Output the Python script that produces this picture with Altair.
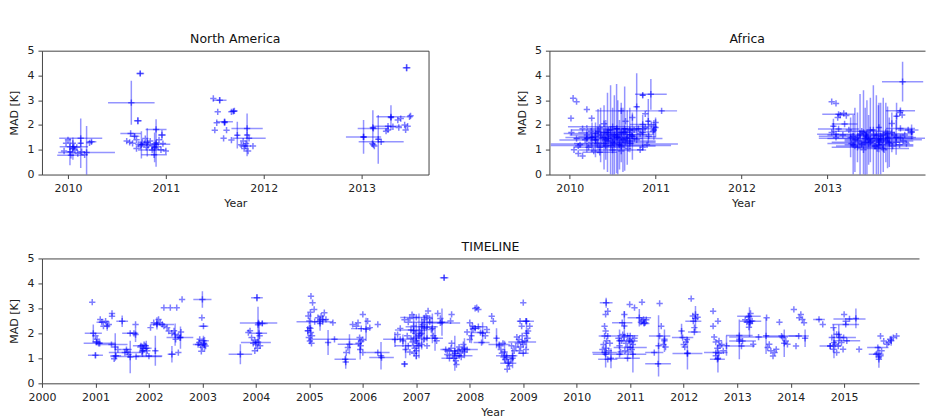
import altair as alt
import pandas as pd

FONT = "DejaVu Sans"
BLUE = "#0000ff"

# ---------- data: (year, MAD, x-error, y-error); 2-tuples are plain "+" markers ----------
na_2010 = [
    (2010.13, 1.46, 0.22, 0.03), (2010.13, 1.26, 0.02, 1.0), (2010.19, 0.89, 0.29, 1.07),
    (2010.06, 1.12, 0.145, 0.03), (2010.03, 0.78, 0.14, 0.03), (2010.02, 0.92, 0.02, 0.54),
    (2010.05, 1.05, 0.02, 0.45), (2010.24, 1.32, 0.05, 0.08), (2010.22, 1.28),
    (2010.02, 1.12), (2010.07, 0.99), (2010.10, 0.85), (2010.14, 0.92), (2010.05, 1.26),
    (2009.98, 1.26), (2009.96, 0.95), (2010.00, 1.40), (2010.09, 1.10), (2010.17, 0.80),
]
na_2010b = [
    (2010.647, 2.90, 0.238, 0.89), (2010.738, 4.08, 0.04, 0.10), (2010.714, 2.17, 0.04, 0.15),
    (2010.64, 1.66, 0.105, 0.03), (2010.90, 1.82, 0.107, 0.03), (2010.90, 1.27, 0.02, 0.96),
    (2010.81, 1.30, 0.02, 0.57), (2010.90, 1.22, 0.145, 0.03), (2010.86, 0.99, 0.145, 0.03),
    (2010.88, 0.80, 0.13, 0.03), (2010.75, 1.20, 0.02, 0.55), (2010.885, 1.10, 0.02, 0.60),
    (2010.60, 1.35), (2010.63, 1.30), (2010.66, 1.26), (2010.70, 1.40), (2010.72, 1.22),
    (2010.74, 1.15), (2010.76, 1.30), (2010.78, 1.25), (2010.80, 1.10), (2010.82, 1.18),
    (2010.84, 1.35), (2010.86, 1.15), (2010.88, 1.05), (2010.92, 1.12), (2010.95, 1.00),
    (2010.97, 1.25), (2011.00, 0.95), (2010.79, 1.45), (2010.70, 1.05), (2010.93, 1.40),
    (2010.68, 1.55, 0.05, 0.1), (2010.96, 1.60, 0.04, 0.2),
]
na_2011 = [
    (2011.485, 3.07), (2011.55, 3.00, 0.07, 0.12), (2011.53, 2.53), (2011.52, 2.09),
    (2011.50, 1.79), (2011.59, 1.46), (2011.60, 2.13, 0.085, 0.03), (2011.60, 2.10, 0.02, 0.12),
    (2011.67, 2.53), (2011.70, 2.57), (2011.69, 2.55, 0.04, 0.10), (2011.62, 1.79),
    (2011.83, 1.86, 0.16, 0.03), (2011.83, 1.60, 0.02, 0.86), (2011.85, 1.46, 0.17, 0.03),
    (2011.73, 1.59, 0.02, 0.54), (2011.77, 1.20), (2011.80, 1.05), (2011.82, 1.25),
    (2011.84, 0.95), (2011.79, 1.35), (2011.89, 1.15), (2011.67, 1.39), (2011.81, 1.15, 0.06, 0.05),
]
na_2013 = [
    (2013.02, 1.52, 0.18, 0.03), (2013.02, 1.52, 0.02, 0.68), (2013.20, 1.32, 0.23, 0.03),
    (2013.17, 1.42, 0.02, 0.98), (2013.12, 1.86, 0.16, 0.03), (2013.115, 1.90, 0.02, 0.70),
    (2013.12, 1.20), (2013.13, 1.15), (2013.11, 1.25), (2013.27, 1.95, 0.14, 0.03),
    (2013.30, 2.33, 0.15, 0.03), (2013.30, 2.30, 0.02, 0.50), (2013.27, 1.80), (2013.32, 1.93),
    (2013.37, 2.20), (2013.40, 2.26), (2013.44, 2.00), (2013.45, 1.80), (2013.49, 2.33),
    (2013.47, 1.95), (2013.38, 1.90), (2013.25, 1.75), (2013.46, 4.31, 0.04, 0.15), (2013.50, 2.37),
]

af_2010 = [
    (2010.04, 3.08), (2010.08, 2.94), (2010.20, 2.63), (2010.015, 2.27), (2010.256, 2.27),
    (2010.52, 1.23, 0.74, 0.03), (2010.48, 1.17, 0.70, 0.03), (2010.945, 3.24, 0.185, 0.62),
    (2010.85, 3.20, 0.03, 0.10), (2010.60, 2.57, 0.30, 0.03), (2011.07, 2.57, 0.18, 0.03),
    (2010.78, 2.74, 0.02, 1.35), (2010.476, 1.80, 0.02, 1.80), (2010.546, 1.85, 0.02, 1.80),
    (2010.33, 1.75, 0.02, 0.90), (2010.64, 1.85, 0.02, 1.70), (2010.42, 1.40, 0.02, 0.80),
    (2010.58, 1.20, 0.02, 1.00), (2010.70, 1.80, 0.02, 0.90), (2010.915, 2.15, 0.02, 0.90),
    (2010.98, 1.80, 0.02, 0.40), (2010.26, 1.50, 0.02, 0.60), (2010.36, 1.60, 0.02, 1.10),
    (2010.50, 1.30, 0.02, 1.40), (2010.62, 1.40, 0.02, 1.30),
    (2010.40, 1.50, 0.02, 1.30), (2010.44, 1.70, 0.02, 1.60), (2010.52, 1.60, 0.02, 1.60),
    (2010.56, 1.50, 0.02, 1.50), (2010.60, 1.70, 0.02, 1.20), (2010.67, 1.50, 0.02, 1.10),
    (2010.73, 1.55, 0.02, 0.95), (2010.30, 1.40, 0.02, 0.70), (2010.20, 1.45, 0.02, 0.55),
    (2010.85, 1.70, 0.02, 0.70), (2011.00, 1.90, 0.02, 0.40),
]
af_2010h = [
    (2010.50, 1.93, 0.52, 0.03), (2010.45, 1.80, 0.43, 0.03), (2010.30, 1.66, 0.37, 0.03),
    (2010.55, 1.53, 0.45, 0.03), (2010.30, 1.39, 0.42, 0.03), (2010.50, 0.99, 0.39, 0.03),
    (2010.40, 1.70, 0.30, 0.03), (2010.70, 1.62, 0.28, 0.03), (2010.75, 1.45, 0.33, 0.03),
    (2010.35, 1.10, 0.30, 0.03), (2010.65, 1.30, 0.35, 0.03), (2010.80, 1.85, 0.20, 0.03),
    (2010.45, 1.45, 0.40, 0.03), (2010.85, 2.02, 0.15, 0.03), (2010.40, 1.25, 0.35, 0.03),
    (2010.60, 1.15, 0.40, 0.03), (2010.55, 1.85, 0.35, 0.03), (2010.45, 1.60, 0.45, 0.03),
    (2010.70, 1.35, 0.30, 0.03), (2010.25, 1.50, 0.30, 0.03), (2010.65, 1.72, 0.35, 0.03),
    (2010.35, 0.90, 0.20, 0.03),
]
af_2010b = [
    (2010.10, 0.85), (2010.15, 0.75), (2010.05, 1.00), (2010.12, 1.20), (2010.18, 1.40),
    (2010.22, 1.10), (2010.25, 1.30), (2010.28, 0.95), (2010.32, 1.25), (2010.38, 1.45),
    (2010.42, 1.15), (2010.45, 1.35), (2010.48, 1.55), (2010.52, 1.40), (2010.55, 1.60),
    (2010.58, 1.30), (2010.60, 1.50), (2010.63, 1.70), (2010.66, 1.45), (2010.70, 1.25),
    (2010.72, 1.60), (2010.75, 1.80), (2010.78, 1.40), (2010.82, 1.65), (2010.85, 1.10),
    (2010.88, 1.90), (2010.92, 1.55), (2010.95, 2.00), (2010.97, 1.75), (2011.00, 2.10),
    (2010.30, 1.55), (2010.20, 1.60), (2010.08, 1.45), (2010.02, 1.70), (2010.35, 1.90),
    (2010.40, 2.05), (2010.65, 2.15), (2010.73, 2.30), (2010.88, 2.45), (2010.10, 1.15),
    (2010.15, 1.85), (2010.25, 1.75), (2010.60, 0.95), (2010.68, 1.05), (2010.82, 1.00),
    (2010.90, 1.20),
]
af_2013 = [
    (2013.875, 3.75, 0.24, 0.80), (2013.05, 2.94), (2013.10, 2.87), (2013.13, 2.43, 0.19, 0.03),
    (2013.15, 2.40), (2013.19, 2.47), (2013.22, 2.38), (2013.12, 2.30),
    (2013.85, 2.58, 0.17, 0.03), (2013.805, 2.35, 0.02, 0.55), (2013.845, 2.50), (2013.87, 2.40),
    (2013.13, 1.84, 0.24, 0.03), (2013.20, 2.04, 0.15, 0.03), (2013.07, 1.95, 0.02, 0.30),
    (2013.10, 1.63, 0.22, 0.03), (2013.55, 1.46, 0.65, 0.03), (2013.45, 1.55, 0.55, 0.03),
    (2013.50, 1.30, 0.45, 0.03), (2013.60, 1.20, 0.40, 0.03), (2013.40, 1.75, 0.35, 0.03),
    (2013.65, 1.40, 0.45, 0.03), (2013.70, 1.65, 0.30, 0.03), (2013.35, 1.10, 0.30, 0.03),
    (2013.40, 1.25, 0.40, 0.03), (2013.55, 1.15, 0.45, 0.03), (2013.60, 1.35, 0.40, 0.03),
    (2013.45, 1.60, 0.45, 0.03), (2013.65, 1.05, 0.30, 0.03), (2013.50, 1.45, 0.50, 0.03),
    (2013.85, 1.86, 0.17, 0.03), (2013.94, 1.80, 0.12, 0.03), (2013.98, 1.72, 0.02, 0.30),
    (2013.98, 1.72), (2013.75, 2.06), (2013.85, 1.50, 0.18, 0.03),
]
af_2013v = [
    (2013.32, 1.40, 0.02, 1.30), (2013.38, 1.60, 0.02, 1.65), (2013.44, 1.30, 0.02, 1.40),
    (2013.535, 1.80, 0.02, 1.80), (2013.593, 1.40, 0.02, 1.40), (2013.65, 1.60, 0.02, 1.50),
    (2013.70, 1.50, 0.02, 1.25), (2013.48, 1.40, 0.02, 1.00), (2013.27, 1.50, 0.02, 0.80),
    (2013.75, 1.70, 0.02, 0.80), (2013.60, 1.90, 0.02, 1.00), (2013.30, 1.20, 0.02, 1.20),
    (2013.35, 1.50, 0.02, 1.00), (2013.42, 1.70, 0.02, 1.70), (2013.46, 1.50, 0.02, 1.50),
    (2013.50, 1.80, 0.02, 1.30), (2013.57, 1.60, 0.02, 1.60), (2013.62, 1.45, 0.02, 1.45),
    (2013.68, 1.70, 0.02, 1.20), (2013.72, 1.30, 0.02, 1.00), (2013.80, 1.50, 0.02, 0.70),
]
af_2013b = [
    (2013.28, 1.25), (2013.32, 1.15), (2013.36, 1.35), (2013.40, 1.20), (2013.44, 1.45),
    (2013.48, 1.25), (2013.52, 1.35), (2013.56, 1.15), (2013.60, 1.30), (2013.64, 1.20),
    (2013.68, 1.35), (2013.72, 1.25), (2013.76, 1.15), (2013.80, 1.30), (2013.84, 1.20),
    (2013.88, 1.35), (2013.92, 1.25), (2013.30, 1.55), (2013.38, 1.65), (2013.46, 1.70),
    (2013.54, 1.60), (2013.62, 1.55), (2013.70, 1.45), (2013.78, 1.60), (2013.25, 1.80),
    (2013.42, 1.00), (2013.58, 1.05), (2013.66, 1.00), (2013.10, 1.50), (2013.05, 1.70),
    (2013.18, 1.60), (2013.90, 1.60),
]

tl_2001 = [
    (2000.94, 3.25), (2000.96, 2.00, 0.16, 0.36), (2001.00, 1.90), (2001.03, 1.76),
    (2001.06, 1.60), (2001.02, 1.65, 0.08, 0.10), (2001.30, 1.55, 0.30, 0.03),
    (2001.00, 1.12, 0.14, 0.12), (2001.09, 2.56), (2001.19, 2.49), (2001.25, 2.36),
    (2001.31, 2.69), (2001.15, 2.29), (2001.12, 2.45, 0.10, 0.05), (2001.22, 2.30, 0.02, 0.20),
    (2001.50, 2.49, 0.11, 0.23), (2001.65, 1.05, 0.02, 0.65), (2001.55, 1.23, 0.30, 0.03),
    (2001.76, 1.07, 0.48, 0.03), (2001.75, 2.36), (2001.72, 2.00), (2001.75, 1.95, 0.02, 0.30),
    (2001.38, 1.10, 0.10, 0.10), (2001.35, 0.98), (2001.42, 1.35), (2001.60, 1.25),
    (2001.62, 1.15), (2001.58, 1.35, 0.10, 0.05), (2001.84, 1.45), (2001.90, 1.38),
    (2001.87, 1.25), (2001.93, 1.50), (2001.91, 1.55), (2001.97, 1.30), (2001.95, 1.40, 0.10, 0.30),
    (2001.88, 1.30, 0.05, 0.25), (2002.00, 1.09, 0.25, 0.03), (2002.12, 1.30, 0.02, 0.60),
    (2001.85, 1.50, 0.15, 0.03), (2001.65, 2.00, 0.15, 0.03), (2001.08, 1.60, 0.30, 0.03),
    (2001.37, 1.45, 0.02, 0.55), (2001.31, 2.80),
]
tl_2002 = [
    (2002.03, 2.23), (2002.09, 2.43), (2002.15, 2.36), (2002.18, 2.56), (2002.21, 2.43),
    (2002.28, 2.29), (2002.34, 2.23), (2002.25, 2.36, 0.22, 0.03), (2002.37, 2.09),
    (2002.43, 2.00), (2002.49, 1.95, 0.02, 0.45), (2002.50, 1.76), (2002.58, 1.83, 0.25, 0.03),
    (2002.43, 1.16, 0.08, 0.33), (2002.59, 1.83, 0.02, 0.45), (2002.28, 3.03), (2002.40, 3.03),
    (2002.52, 3.03), (2002.62, 3.36), (2002.55, 1.90), (2002.60, 2.05), (2002.47, 2.10),
    (2002.55, 1.23), (2002.15, 2.40, 0.02, 0.25),
]
tl_2003 = [
    (2003.00, 3.36, 0.17, 0.33), (2002.99, 2.63), (2003.02, 2.29, 0.09, 0.03),
    (2002.94, 1.63), (2002.97, 1.52), (2003.03, 1.60), (2003.00, 1.44), (2002.95, 1.76),
    (2003.06, 1.49), (2002.98, 1.28), (2003.02, 1.70, 0.10, 0.20), (2003.04, 1.55, 0.02, 0.30),
    (2002.92, 1.55, 0.10, 0.05), (2003.71, 1.16, 0.22, 0.40),
]
tl_2004 = [
    (2004.02, 3.43, 0.11, 0.15), (2004.05, 2.42, 0.35, 0.03), (2004.04, 2.35, 0.02, 0.72),
    (2003.86, 2.03), (2003.92, 1.83), (2003.98, 1.73), (2004.04, 1.65), (2004.07, 1.90),
    (2003.95, 1.60), (2003.89, 2.10), (2004.00, 1.55), (2004.08, 1.50), (2004.03, 1.40),
    (2003.98, 1.30), (2004.00, 1.63, 0.28, 0.03), (2004.06, 2.00, 0.15, 0.50), (2004.12, 2.40, 0.10, 0.10),
]
tl_2005 = [
    (2005.03, 3.49), (2005.06, 3.23), (2005.09, 2.96), (2005.10, 2.47, 0.34, 0.03),
    (2005.00, 2.23), (2005.03, 2.03), (2004.99, 1.83), (2005.01, 1.69), (2005.00, 2.50),
    (2004.98, 2.70), (2005.02, 2.85), (2005.04, 1.60), (2005.05, 1.90), (2004.97, 2.10, 0.05, 0.20),
    (2005.02, 2.20, 0.02, 0.60), (2005.16, 2.63), (2005.22, 2.69), (2005.28, 2.83),
    (2005.19, 2.49), (2005.31, 2.56), (2005.25, 2.55, 0.10, 0.20), (2005.47, 1.76, 0.47, 0.03),
    (2005.35, 1.63, 0.02, 0.50), (2005.44, 2.43), (2005.20, 2.40, 0.02, 0.30),
]
tl_2006 = [
    (2005.75, 1.56, 0.22, 0.40), (2005.69, 1.23), (2005.72, 1.43), (2005.67, 0.96, 0.20, 0.03),
    (2005.68, 0.85, 0.02, 0.27), (2005.88, 2.29), (2005.91, 2.43), (2005.81, 2.36),
    (2005.94, 1.83), (2005.97, 1.69), (2005.92, 1.60), (2006.00, 1.75), (2005.96, 1.50),
    (2005.97, 2.19, 0.19, 0.03), (2006.06, 2.16, 0.02, 0.47), (2006.00, 1.23), (2006.00, 2.76),
    (2006.09, 2.49), (2006.13, 2.23), (2006.28, 2.36), (2006.28, 1.23, 0.22, 0.03),
    (2006.34, 1.10, 0.02, 0.55), (2006.35, 1.03, 0.23, 0.03), (2005.95, 1.35, 0.02, 0.40),
]
tl_2007 = [
    (2006.70, 1.76, 0.32, 0.03), (2006.90, 2.13, 0.30, 0.03), (2007.10, 2.27, 0.30, 0.03),
    (2007.00, 2.64, 0.30, 0.03), (2006.85, 1.50, 0.25, 0.03), (2007.20, 1.80, 0.30, 0.03),
    (2007.25, 2.45, 0.35, 0.03), (2006.60, 1.75, 0.02, 0.30), (2006.75, 1.70, 0.02, 0.25),
    (2006.80, 1.35, 0.02, 0.35), (2006.95, 2.10, 0.02, 0.70), (2007.00, 1.70, 0.02, 0.75),
    (2007.05, 1.90, 0.02, 0.90), (2007.10, 2.00, 0.02, 0.65), (2007.15, 2.20, 0.02, 0.55),
    (2007.20, 2.25, 0.02, 0.50), (2007.30, 2.20, 0.02, 0.60), (2007.35, 1.80, 0.02, 0.50),
    (2006.85, 2.45), (2006.88, 2.60), (2006.92, 2.75), (2006.95, 2.30), (2006.98, 2.00),
    (2007.00, 1.85), (2007.02, 1.60), (2007.04, 1.50), (2006.97, 1.40), (2006.93, 1.65),
    (2006.90, 1.80), (2007.06, 2.10), (2007.08, 1.95), (2007.12, 2.35), (2007.15, 2.55),
    (2007.18, 2.70), (2007.22, 2.90), (2007.25, 2.60), (2007.28, 2.15), (2007.32, 1.90),
    (2007.38, 1.70), (2007.10, 1.55), (2007.00, 1.30), (2006.96, 1.20), (2007.00, 1.10),
    (2006.70, 2.20), (2006.78, 2.55), (2006.65, 1.95), (2006.83, 1.90), (2007.14, 1.75),
    (2007.20, 1.50), (2006.88, 1.25), (2006.78, 0.77, 0.06, 0.12), (2007.40, 2.80),
    (2007.45, 2.60), (2007.52, 4.23, 0.08, 0.12), (2007.48, 2.45, 0.02, 0.55),
    (2007.45, 2.42, 0.37, 0.03), (2007.66, 2.76), (2007.64, 2.50),
]
tl_2008 = [
    (2007.72, 1.29, 0.20, 0.03), (2007.72, 1.20, 0.02, 0.70), (2007.65, 1.40), (2007.68, 1.15),
    (2007.70, 1.00), (2007.74, 0.90), (2007.76, 1.10), (2007.78, 1.30), (2007.80, 1.45),
    (2007.82, 1.20), (2007.84, 1.05), (2007.86, 1.35), (2007.88, 1.55), (2007.90, 1.25),
    (2007.75, 0.75), (2007.66, 1.60), (2007.62, 1.30), (2007.58, 1.15), (2007.55, 1.35, 0.10, 0.03),
    (2007.80, 1.10, 0.25, 0.03), (2007.90, 1.40, 0.02, 0.40), (2007.95, 1.35, 0.20, 0.03),
    (2007.62, 1.00, 0.15, 0.03), (2008.00, 2.43), (2008.06, 2.16), (2008.13, 3.03),
    (2008.16, 2.96), (2008.10, 3.00), (2008.16, 2.27, 0.16, 0.03), (2007.95, 2.05),
    (2008.00, 1.75), (2008.03, 1.90, 0.02, 0.30), (2008.32, 2.15), (2008.29, 1.90),
    (2008.41, 2.69), (2008.44, 2.49), (2008.20, 2.03, 0.18, 0.03), (2008.24, 2.00, 0.02, 0.45),
    (2008.22, 1.63, 0.15, 0.03), (2008.10, 2.20, 0.10, 0.10), (2008.05, 2.30),
]
tl_2009 = [
    (2008.55, 1.50), (2008.58, 1.35), (2008.60, 1.20), (2008.63, 1.05), (2008.66, 0.95),
    (2008.69, 1.03), (2008.72, 0.85), (2008.74, 0.70), (2008.70, 0.56), (2008.77, 0.95),
    (2008.80, 1.10), (2008.83, 1.30), (2008.78, 1.50), (2008.62, 1.60), (2008.86, 1.45),
    (2008.69, 1.10, 0.20, 0.03), (2008.72, 0.80, 0.15, 0.03), (2008.65, 1.25, 0.02, 0.45),
    (2008.80, 1.00, 0.02, 0.40), (2008.55, 1.55, 0.20, 0.03), (2008.50, 1.80, 0.02, 0.40),
    (2009.00, 3.23), (2008.94, 2.49), (2009.06, 2.49), (2009.12, 2.29), (2008.97, 2.29),
    (2009.09, 2.09), (2008.98, 1.65, 0.26, 0.03), (2008.88, 1.85), (2008.90, 1.60),
    (2008.92, 1.75), (2008.95, 1.45), (2008.98, 1.90), (2009.00, 1.55), (2009.03, 1.70),
    (2009.05, 1.35), (2009.08, 1.80), (2008.93, 1.30), (2009.06, 2.00, 0.02, 0.60),
    (2009.05, 2.49, 0.15, 0.03), (2009.00, 1.20, 0.10, 0.03),
]
tl_2011 = [
    (2010.55, 3.23, 0.12, 0.20), (2010.54, 2.76), (2010.58, 2.89), (2010.52, 1.23, 0.23, 0.03),
    (2010.54, 1.16, 0.02, 0.53), (2010.52, 2.29), (2010.54, 2.09), (2010.52, 1.89),
    (2010.58, 1.89, 0.17, 0.03), (2010.58, 0.96, 0.18, 0.03), (2010.64, 1.00, 0.02, 0.40),
    (2010.50, 1.55), (2010.55, 1.40), (2010.60, 1.30), (2010.62, 1.60), (2010.56, 1.70),
    (2010.48, 1.35), (2010.89, 2.76), (2010.85, 2.43, 0.19, 0.03), (2010.89, 2.30, 0.02, 0.60),
    (2010.99, 1.69, 0.15, 0.03), (2010.80, 1.50), (2010.84, 1.70), (2010.88, 1.85),
    (2010.92, 1.60), (2010.95, 1.45), (2010.98, 1.75), (2011.00, 1.90), (2011.02, 1.65),
    (2011.05, 1.55), (2011.08, 1.80), (2010.90, 1.30), (2010.96, 1.25), (2011.03, 1.35),
    (2010.86, 1.95), (2010.78, 1.80), (2010.82, 1.25), (2011.00, 1.43, 0.31, 0.03),
    (2011.05, 1.16, 0.02, 0.73), (2010.95, 1.90, 0.20, 0.03), (2010.80, 1.70, 0.02, 0.45),
    (2010.80, 1.16, 0.50, 0.03), (2010.95, 1.00, 0.23, 0.03),
    (2010.99, 3.16), (2011.08, 3.03), (2011.22, 3.25), (2011.17, 2.63, 0.22, 0.35),
    (2011.22, 2.50), (2011.25, 2.56), (2011.28, 2.43), (2011.20, 2.45), (2011.30, 2.55),
    (2011.26, 2.40, 0.10, 0.10), (2011.55, 3.20), (2011.53, 1.50, 0.02, 1.23),
    (2011.52, 0.78, 0.24, 0.03), (2011.55, 1.89, 0.20, 0.03), (2011.58, 2.29), (2011.64, 1.76),
    (2011.64, 1.70, 0.02, 0.45), (2011.45, 1.23, 0.17, 0.03), (2011.62, 1.55), (2011.66, 1.45),
]
tl_2012 = [
    (2011.96, 2.09, 0.02, 0.30), (2011.98, 1.83, 0.20, 0.03), (2012.04, 1.65), (2012.00, 1.55),
    (2012.06, 1.75), (2012.02, 1.45), (2012.07, 1.20, 0.02, 0.65), (2012.07, 1.19, 0.28, 0.03),
    (2012.14, 3.39), (2012.22, 2.76), (2012.17, 2.70), (2012.26, 2.65), (2012.22, 2.60, 0.02, 0.50),
    (2012.20, 2.23), (2012.18, 2.49, 0.15, 0.03), (2012.20, 2.05, 0.12, 0.03),
]
tl_2013 = [
    (2012.55, 2.89), (2012.55, 2.29), (2012.64, 2.49), (2012.57, 1.85), (2012.60, 1.65),
    (2012.63, 1.40), (2012.66, 1.20), (2012.68, 1.50), (2012.60, 1.10), (2012.71, 1.55),
    (2012.74, 1.30), (2012.66, 1.70), (2012.64, 1.00, 0.02, 0.57), (2012.60, 1.23, 0.22, 0.03),
    (2012.63, 0.96, 0.14, 0.03), (2012.80, 1.50, 0.02, 0.40), (2013.04, 1.91, 0.25, 0.03),
    (2013.40, 1.85, 0.55, 0.03), (2013.10, 1.69, 0.25, 0.03), (2013.04, 1.76, 0.02, 0.80),
    (2013.04, 1.69), (2013.15, 2.55), (2013.18, 2.45), (2013.21, 2.65), (2013.24, 2.40),
    (2013.22, 2.25), (2013.25, 2.80), (2013.28, 2.50), (2013.23, 2.45, 0.02, 0.60),
    (2013.25, 2.49, 0.20, 0.03), (2013.22, 2.69, 0.22, 0.03), (2013.08, 1.49, 0.25, 0.03),
    (2013.30, 1.56), (2013.54, 1.90, 0.02, 0.73), (2013.55, 2.63), (2013.79, 2.45),
    (2013.57, 1.43), (2013.63, 1.30), (2013.70, 1.23), (2013.67, 1.09), (2013.73, 1.36),
    (2013.60, 1.56), (2013.83, 1.89, 0.30, 0.03), (2013.88, 1.60, 0.02, 0.55), (2013.85, 1.83),
    (2013.91, 1.69), (2013.94, 1.56), (2014.10, 1.49), (2014.15, 1.89, 0.19, 0.03),
    (2014.27, 1.80, 0.02, 0.35), (2014.06, 2.96), (2014.19, 2.76), (2014.16, 2.63),
    (2014.22, 2.56), (2014.25, 2.43),
]
tl_2015 = [
    (2014.53, 2.56, 0.11, 0.03), (2014.60, 2.36), (2014.80, 2.23), (2014.86, 1.96),
    (2014.92, 1.83), (2014.77, 1.83), (2014.83, 1.56), (2014.89, 1.49), (2014.95, 1.63),
    (2014.74, 1.49), (2014.86, 1.23), (2014.98, 1.36), (2014.80, 1.36), (2015.10, 2.58, 0.30, 0.03),
    (2015.22, 2.60, 0.02, 0.40), (2015.03, 2.36, 0.25, 0.03), (2015.00, 2.76), (2015.03, 2.49),
    (2014.99, 1.83, 0.23, 0.03), (2014.74, 1.49, 0.20, 0.03), (2014.81, 1.63, 0.02, 0.63),
    (2015.28, 1.36), (2014.90, 1.95, 0.02, 0.40), (2015.05, 1.70, 0.25, 0.03),
]
tl_2016 = [
    (2015.68, 1.89), (2015.74, 1.69), (2015.80, 1.56), (2015.83, 1.63), (2015.86, 1.76),
    (2015.92, 1.83), (2015.98, 1.89), (2015.88, 1.70, 0.02, 0.20), (2015.63, 1.43, 0.20, 0.03),
    (2015.60, 1.16, 0.14, 0.03), (2015.65, 1.05, 0.02, 0.43), (2015.65, 0.96), (2015.62, 1.20),
    (2015.68, 1.10), (2015.70, 1.30),
]

y_ticks = [0, 1, 2, 3, 4, 5]
na_ticks = [2010, 2011, 2012, 2013]
af_ticks = [2010, 2011, 2012, 2013]
tl_ticks = list(range(2000, 2016))


def frame(groups):
    rows = []
    for g in groups:
        for t in g:
            rows.append({
                "x": t[0], "y": t[1],
                "dx": t[2] if len(t) > 2 else 0.0,
                "dy": t[3] if len(t) > 3 else 0.0,
            })
    df = pd.DataFrame(rows)
    df["xlo"] = df["x"] - df["dx"]
    df["xhi"] = df["x"] + df["dx"]
    df["ylo"] = df["y"] - df["dy"]
    df["yhi"] = df["y"] + df["dy"]
    return df


def panel(df, xdom, xticks, w, h, title, right_border, title_dx=0, xtitle_x=None):
    xs = alt.Scale(domain=xdom, nice=False, zero=False)
    ys = alt.Scale(domain=[0, 5], nice=False, zero=False)
    bkw = dict(values=xticks, format="d", title="Year", grid=False,
               labelFlush=False, labelOverlap=False)
    if xtitle_x is not None:
        bkw["titleX"] = xtitle_x
    ax_b = alt.Axis(**bkw)
    ax_l = alt.Axis(values=y_ticks, title="MAD [K]", grid=False,
                    labelFlush=False, labelOverlap=False)
    ax_t = alt.Axis(orient="top", labels=False, ticks=False, title="", grid=False)
    ax_r = alt.Axis(orient="right", labels=False, ticks=False, title="", grid=False)
    base = alt.Chart(df)
    hbar = base.transform_filter("datum.dx > 0").mark_rule(
        color=BLUE, opacity=0.42, strokeWidth=1.5, clip=True
    ).encode(
        x=alt.X("xlo:Q", scale=xs, axis=ax_b),
        x2="xhi:Q",
        y=alt.Y("y:Q", scale=ys, axis=ax_l),
    )
    vbar = base.transform_filter("datum.dy > 0").mark_rule(
        color=BLUE, opacity=0.42, strokeWidth=1.5, clip=True
    ).encode(
        x=alt.X("x:Q", scale=xs, axis=ax_t),
        y=alt.Y("ylo:Q", scale=ys, axis=ax_r if right_border else None),
        y2="yhi:Q",
    )
    pts = base.mark_point(
        shape="M-1,0L1,0M0,-1L0,1", size=40, color=BLUE, opacity=0.5,
        strokeWidth=1.5, filled=False, clip=True
    ).encode(
        x=alt.X("x:Q", scale=xs, axis=None),
        y=alt.Y("y:Q", scale=ys, axis=None),
    )
    return alt.layer(hbar, vbar, pts).resolve_axis(
        x="independent", y="independent"
    ).properties(
        width=w, height=h,
        title=alt.TitleParams(title, fontSize=12.5, font=FONT, fontWeight="normal",
                              color="#111", offset=-1, dx=title_dx),
    )


na = panel(frame([na_2010, na_2010b, na_2011, na_2013]),
           [2009.734, 2013.684], na_ticks, 387, 124, "North America", True)
af = panel(frame([af_2010, af_2010h, af_2010b, af_2013, af_2013v, af_2013b]),
           [2009.764, 2014.136], af_ticks, 376, 124, "Africa", False,
           title_dx=10, xtitle_x=194)
tl = panel(frame([tl_2001, tl_2002, tl_2003, tl_2004, tl_2005, tl_2006, tl_2007,
                  tl_2008, tl_2009, tl_2011, tl_2012, tl_2013, tl_2015, tl_2016]),
           [2000, 2016.40], tl_ticks, 878, 125, "TIMELINE", False,
           title_dx=10, xtitle_x=451)

chart = alt.vconcat(
    alt.hconcat(na, af, spacing=86),
    tl,
    spacing=31,
).properties(
    padding={"left": 0, "top": 24.5, "right": 0, "bottom": 0}
).configure_axis(
    labelFont=FONT, titleFont=FONT, labelFontSize=11, titleFontSize=11,
    titleFontWeight="normal", labelColor="#222", titleColor="#222",
    domainColor="#444", domainWidth=1, tickColor="#444", tickSize=4,
    labelPadding=4, titlePadding=4,
).configure_axisY(
    labelPadding=4, titlePadding=7,
).configure_view(stroke="transparent")

chart.save("out.html", embed_options={"renderer": "svg", "actions": False})
